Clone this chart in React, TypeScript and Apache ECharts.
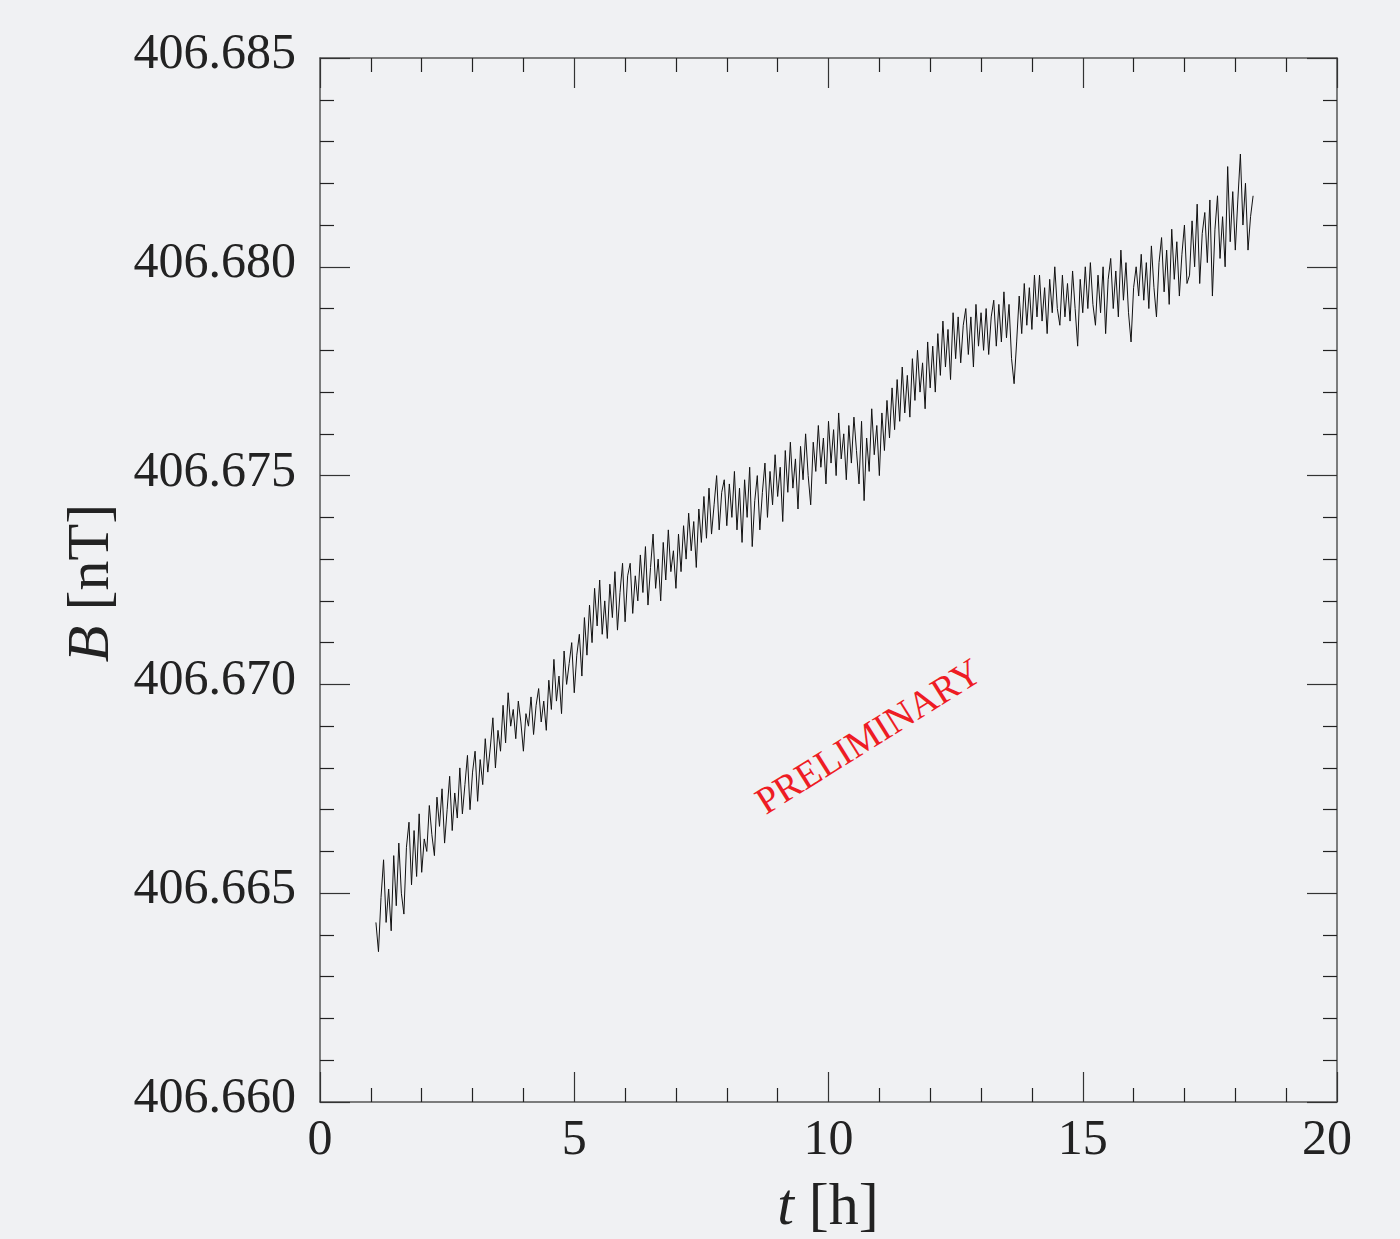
import React, { useEffect, useRef } from "react";
import * as echarts from "echarts";

// Field readings, in pT above 406.660 nT, sampled every 0.05 h from t = 1.10 h
const B0 = 406.66;
const T0 = 1.1;
const DT = 0.05;

const h01 = [4.3, 3.6, 4.9, 5.8, 4.3, 5.1, 4.1, 5.9, 4.7, 6.2, 5.0, 4.5, 6.1, 6.7, 5.2, 6.5, 5.4, 6.9, 5.5, 6.3];
const h02 = [6.0, 7.1, 6.4, 5.9, 7.3, 6.6, 7.5, 6.2, 7.0, 7.8, 6.5, 7.4, 6.8, 8.0, 6.9, 7.6, 8.3, 7.0, 7.9, 8.4];
const h03 = [7.2, 8.2, 7.6, 8.7, 7.9, 8.5, 9.2, 8.0, 8.9, 8.4, 9.5, 8.6, 9.8, 9.0, 9.4, 8.7, 9.6, 9.1, 8.4, 9.3];
const h04 = [9.0, 9.7, 8.8, 9.5, 9.9, 9.1, 9.6, 8.9, 10.1, 9.4, 10.6, 9.6, 10.2, 9.3, 10.8, 10.0, 10.5, 11.0, 9.8, 10.7];
const h05 = [11.2, 10.2, 11.6, 10.7, 11.9, 11.0, 12.3, 11.4, 12.5, 11.2, 12.0, 11.1, 12.4, 11.6, 12.7, 11.3, 12.2, 12.9, 11.5, 12.6];
const h06 = [12.9, 11.7, 12.6, 12.0, 13.1, 12.2, 13.3, 11.9, 12.8, 13.6, 12.3, 13.0, 12.0, 13.4, 12.5, 13.7, 12.7, 13.2, 12.3, 13.6];
const h07 = [12.7, 13.8, 13.0, 14.1, 13.2, 13.9, 12.8, 14.2, 13.4, 14.5, 13.5, 14.7, 13.6, 14.3, 15.0, 13.7, 14.6, 14.9, 13.8, 14.8];
const h08 = [14.0, 15.1, 13.7, 14.7, 13.4, 14.9, 14.0, 15.2, 13.3, 14.4, 15.0, 13.7, 14.6, 15.3, 14.0, 15.1, 14.3, 15.5, 14.5, 15.2];
const h09 = [13.9, 15.6, 14.6, 15.8, 14.7, 15.4, 14.2, 15.7, 14.9, 16.0, 15.0, 14.3, 15.8, 15.1, 16.2, 15.2, 15.9, 14.8, 16.3, 15.3];
const h10 = [16.1, 15.0, 16.5, 15.4, 16.0, 14.9, 16.2, 15.3, 16.4, 15.6, 14.8, 16.3, 14.4, 15.9, 15.1, 16.6, 15.5, 16.2, 15.0, 16.5];
const h11 = [15.6, 16.8, 15.9, 17.1, 16.1, 17.3, 16.3, 17.6, 16.5, 17.4, 16.4, 17.8, 16.8, 18.0, 17.0, 17.7, 16.6, 18.2, 17.1, 18.1];
const h12 = [17.0, 18.4, 17.4, 18.7, 17.6, 18.5, 17.3, 18.9, 17.8, 18.8, 17.7, 18.6, 19.0, 17.9, 18.8, 17.6, 19.1, 18.1, 18.9, 18.0];
const h13 = [19.0, 17.9, 18.8, 19.2, 18.1, 19.1, 18.2, 19.4, 18.3, 19.1, 17.8, 17.2, 18.2, 19.3, 18.4, 19.6, 18.6, 19.5, 18.5, 19.8];
const h14 = [18.8, 19.8, 18.7, 19.5, 18.4, 19.7, 18.9, 20.0, 19.0, 18.6, 19.8, 18.8, 19.6, 18.7, 19.9, 19.0, 18.1, 19.7, 18.9, 20.0];
const h15 = [19.0, 20.1, 19.1, 18.6, 19.8, 18.9, 20.0, 18.4, 19.7, 20.2, 19.0, 19.9, 18.8, 20.4, 19.2, 20.1, 18.9, 18.2, 19.5, 20.0];
const h16 = [19.3, 20.3, 19.2, 20.1, 19.0, 20.5, 19.5, 18.8, 20.1, 20.7, 19.4, 20.4, 19.1, 20.9, 19.7, 20.6, 19.3, 20.3, 21.0, 19.6];
const h17 = [19.8, 21.1, 20.0, 21.5, 19.6, 20.8, 21.3, 20.1, 21.6, 19.3, 20.9, 21.7, 20.2, 21.2, 20.0, 22.4, 20.6, 21.8, 20.4, 21.6];
const h18 = [22.7, 21.0, 22.0, 20.4, 21.2, 21.7];

const hourBlocks = [h01, h02, h03, h04, h05, h06, h07, h08, h09, h10, h11, h12, h13, h14, h15, h16, h17, h18];

const X_MIN = 0;
const X_MAX = 20;
const X_STEP = 5;
const Y_MIN = 406.66;
const Y_MAX = 406.685;
const Y_STEP = 0.005;

const FONT = "'Liberation Serif', 'DejaVu Serif', serif";
const BG = "#f0f1f3";
const FRAME = "#555555";
const INK = "#222222";

export default function App() {
  const ref = useRef<HTMLDivElement>(null);

  useEffect(() => {
    if (!ref.current) return;
    document.body.style.margin = "0";
    document.body.style.background = BG;
    const chart = echarts.init(ref.current, null, { renderer: "svg" });

    const offsets = hourBlocks.flat();
    const data = offsets.map((p, i) => [T0 + i * DT, B0 + p / 1000]);

    const tickCommon = {
      axisLine: { show: true, onZero: false, lineStyle: { color: FRAME, width: 1.5 } },
      axisTick: { show: true, inside: true, length: 30, lineStyle: { color: "#333", width: 1.2 } },
      minorTick: { show: true, splitNumber: 5, length: 14, lineStyle: { color: "#222", width: 1.2 } },
      splitLine: { show: false },
      minorSplitLine: { show: false },
    };

    chart.setOption({
      animation: false,
      backgroundColor: BG,
      grid: { left: 320, top: 58, width: 1017, height: 1044, containLabel: false },
      xAxis: [
        {
          type: "value",
          min: X_MIN,
          max: X_MAX,
          interval: X_STEP,
          position: "bottom",
          ...tickCommon,
          axisLabel: {
            show: true,
            margin: 10,
            fontFamily: FONT,
            fontSize: 50,
            color: INK,
            formatter: (v: number) => (v === X_MAX ? `{r|${v}}` : String(v)),
            rich: {
              r: { fontFamily: FONT, fontSize: 50, color: INK, padding: [0, 20, 0, 0] },
            },
          },
        },
        {
          type: "value",
          min: X_MIN,
          max: X_MAX,
          interval: X_STEP,
          position: "top",
          ...tickCommon,
          axisLabel: { show: false },
        },
      ],
      yAxis: [
        {
          type: "value",
          min: Y_MIN,
          max: Y_MAX,
          interval: Y_STEP,
          position: "left",
          ...tickCommon,
          axisLabel: {
            show: true,
            margin: 24,
            fontFamily: FONT,
            fontSize: 50,
            color: INK,
            formatter: (v: number) => `{a|${v.toFixed(3)}}`,
            rich: {
              a: { fontFamily: FONT, fontSize: 50, color: INK, padding: [0, 0, 14, 0] },
            },
          },
        },
        {
          type: "value",
          min: Y_MIN,
          max: Y_MAX,
          interval: Y_STEP,
          position: "right",
          ...tickCommon,
          axisLabel: { show: false },
        },
      ],
      series: [
        {
          type: "line",
          data,
          showSymbol: false,
          symbol: "none",
          lineStyle: { color: "#111", width: 1 },
          xAxisIndex: 0,
          yAxisIndex: 0,
        },
      ],
      graphic: [
        {
          type: "text",
          x: 828,
          y: 1204,
          style: {
            text: "{i|t} [h]",
            fontFamily: FONT,
            fontSize: 60,
            fill: INK,
            align: "center",
            verticalAlign: "middle",
            rich: {
              i: { fontFamily: FONT, fontSize: 60, fontStyle: "italic", fill: INK },
            },
          },
        },
        {
          type: "text",
          x: 88,
          y: 583,
          rotation: Math.PI / 2,
          style: {
            text: "{i|B} [nT]",
            fontFamily: FONT,
            fontSize: 60,
            fill: INK,
            align: "center",
            verticalAlign: "middle",
            rich: {
              i: { fontFamily: FONT, fontSize: 60, fontStyle: "italic", fill: INK },
            },
          },
        },
        {
          type: "text",
          x: 868,
          y: 736,
          rotation: (32 * Math.PI) / 180,
          style: {
            text: "PRELIMINARY",
            fontFamily: FONT,
            fontSize: 38,
            fill: "#ee1c24",
            align: "center",
            verticalAlign: "middle",
          },
        },
      ],
    });

    return () => chart.dispose();
  }, []);

  return (
    <div
      ref={ref}
      style={{ position: "absolute", left: 0, top: 0, width: 1400, height: 1239 }}
    />
  );
}
